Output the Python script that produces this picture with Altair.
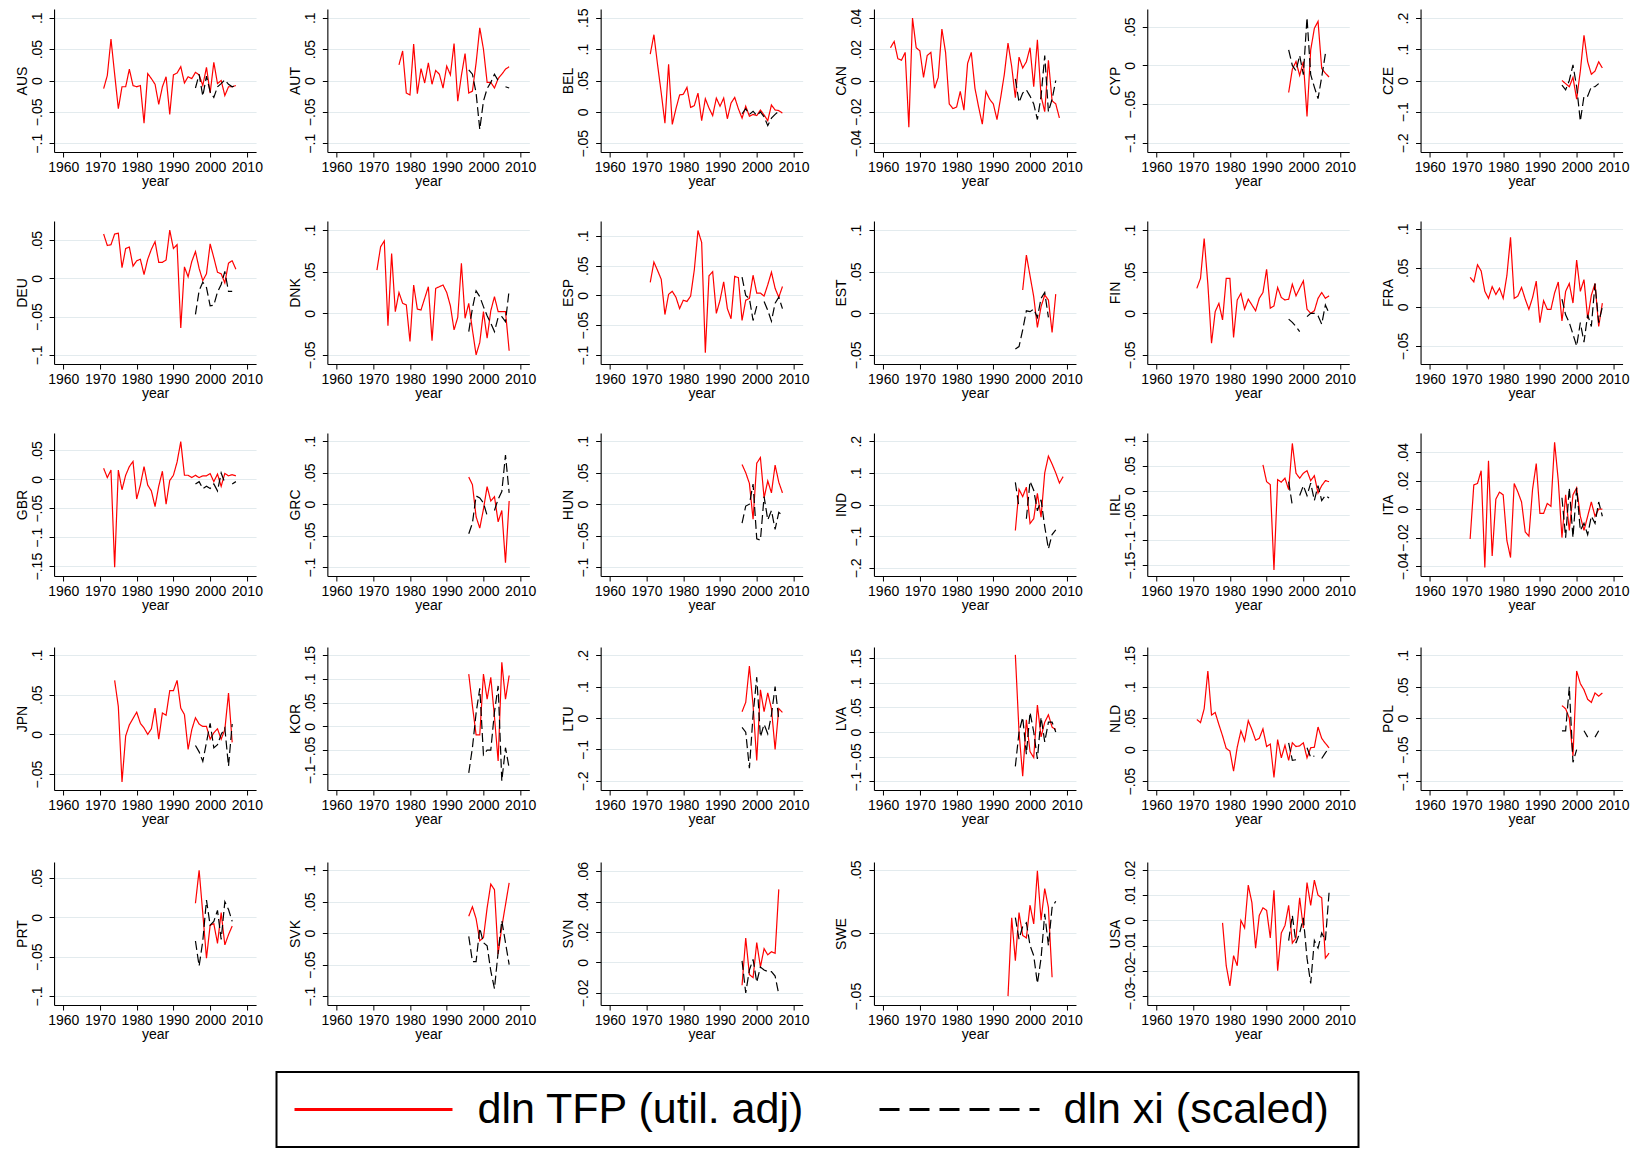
import altair as alt
import pandas as pd

TFP = "dln TFP (util. adj)"
XI = "dln xi (scaled)"
FONT = "Liberation Sans"

# ---- data: annual values (TFP series start year, xi from 1996) ----
AUS_TFP = [-0.013, 0.008, 0.066, 0.010, -0.045, -0.010, -0.010, 0.018, -0.008, -0.010, -0.008, -0.068, 0.011, 0.003, -0.006, -0.038, -0.010, 0.006, -0.054, 0.009, 0.012, 0.022, -0.004, 0.006, 0.003, 0.013, 0.009, -0.008, 0.021, -0.020, 0.029, -0.005, 0.000, -0.024, -0.010, -0.010, -0.008]
AUS_XI = [-0.012, 0.010, -0.025, 0.007, -0.018, -0.027, -0.010, -0.005, 0.001, -0.006, -0.010, -0.008]
AUT_TFP = [0.025, 0.047, -0.020, -0.023, 0.058, -0.021, 0.019, -0.004, 0.028, -0.006, 0.016, 0.010, -0.012, 0.023, 0.009, 0.059, -0.033, 0.008, 0.043, -0.020, -0.017, 0.028, 0.084, 0.050, -0.003, -0.003, -0.012, 0.003, 0.010, 0.018, 0.022]
AUT_XI = [0.017, 0.010, -0.020, -0.078, -0.033, -0.013, -0.003, 0.010, 0.000, None, -0.010, -0.012]
BEL_TFP = [0.092, 0.123, 0.075, 0.030, -0.018, 0.076, -0.020, 0.005, 0.027, 0.028, 0.039, 0.007, 0.010, 0.030, -0.014, 0.021, 0.006, -0.006, 0.022, 0.009, 0.022, -0.011, 0.014, 0.023, 0.005, -0.010, 0.009, -0.007, -0.004, -0.006, 0.003, -0.005, -0.014, 0.011, 0.003, 0.002, -0.002]
BEL_XI = [-0.003, 0.005, -0.004, 0.001, -0.006, 0.000, -0.008, -0.022, -0.010, -0.004, 0.001]
CAN_TFP = [0.021, 0.025, 0.014, 0.013, 0.018, -0.030, 0.040, 0.021, 0.019, 0.002, 0.016, 0.018, -0.005, 0.002, 0.033, 0.018, -0.015, -0.018, -0.017, -0.007, -0.019, 0.011, 0.018, -0.005, -0.017, -0.028, -0.007, -0.012, -0.015, -0.025, -0.011, 0.004, 0.024, 0.009, -0.011, 0.015, 0.008, 0.012, 0.021, -0.004, 0.026, -0.010, -0.020, 0.013, -0.013, -0.015, -0.024]
CAN_XI = [0.001, -0.014, -0.008, -0.006, -0.010, -0.015, -0.025, -0.010, 0.016, -0.020, -0.012, 0.000]
CYP_TFP = [-0.035, -0.005, 0.005, -0.013, 0.005, -0.066, 0.020, 0.048, 0.057, -0.004, -0.010, -0.015]
CYP_XI = [0.020, 0.000, -0.007, 0.013, -0.012, 0.062, -0.012, -0.028, -0.043, -0.015, 0.015]
CZE_TFP = [0.000, -0.010, -0.020, 0.010, -0.060, 0.030, 0.145, 0.060, 0.020, 0.030, 0.060, 0.040]
CZE_XI = [-0.015, -0.030, 0.000, 0.050, -0.020, -0.130, -0.050, -0.050, -0.020, -0.020, -0.010]
DEU_TFP = [0.058, 0.043, 0.044, 0.058, 0.059, 0.014, 0.039, 0.041, 0.016, 0.023, 0.025, 0.005, 0.025, 0.038, 0.048, 0.021, 0.021, 0.024, 0.063, 0.039, 0.044, -0.065, 0.015, 0.002, 0.022, 0.035, 0.013, -0.003, 0.006, 0.045, 0.027, 0.008, 0.006, -0.006, 0.020, 0.023, 0.012]
DEU_XI = [-0.047, -0.016, -0.005, -0.012, -0.036, -0.035, -0.018, -0.008, 0.009, -0.017, -0.017]
DNK_TFP = [0.052, 0.080, 0.087, -0.015, 0.072, 0.002, 0.025, 0.012, 0.010, -0.034, 0.034, 0.005, 0.004, 0.018, 0.032, -0.033, 0.030, 0.032, 0.034, 0.025, 0.009, -0.020, -0.005, 0.060, -0.006, 0.012, -0.020, -0.050, -0.035, 0.002, -0.030, 0.003, 0.020, 0.002, 0.002, 0.002, -0.045]
DNK_XI = [-0.022, 0.006, 0.027, 0.020, 0.008, -0.003, -0.012, -0.022, -0.005, -0.004, -0.010, 0.028]
ESP_TFP = [0.022, 0.056, 0.042, 0.027, -0.032, 0.002, 0.007, -0.003, -0.022, -0.008, -0.010, -0.001, 0.043, 0.109, 0.089, -0.096, 0.033, 0.040, -0.030, -0.008, 0.023, -0.022, -0.039, 0.032, 0.030, -0.042, -0.008, -0.005, 0.034, 0.004, 0.004, -0.001, 0.018, 0.039, 0.012, -0.003, 0.015]
ESP_XI = [0.031, 0.000, -0.005, -0.042, -0.018, None, -0.010, -0.025, -0.043, -0.013, -0.003, -0.022]
EST_TFP = [0.028, 0.070, 0.045, 0.020, -0.017, 0.008, 0.022, 0.016, -0.023, 0.023]
EST_XI = [-0.043, -0.040, -0.020, 0.003, 0.002, 0.005, -0.005, 0.018, 0.025, -0.005]
FIN_TFP = [0.030, 0.042, 0.090, 0.035, -0.036, 0.002, 0.012, -0.008, 0.042, 0.042, -0.029, 0.016, 0.024, 0.005, 0.017, 0.010, 0.003, 0.018, 0.025, 0.053, 0.006, 0.009, 0.031, 0.019, 0.016, 0.017, 0.035, 0.021, 0.030, 0.039, 0.005, 0.000, 0.003, 0.018, 0.025, 0.018, 0.021]
FIN_XI = [-0.007, -0.011, -0.016, -0.022, None, -0.004, 0.000, 0.000, -0.003, -0.013, 0.010, 0.000]
FRA_TFP = [0.038, 0.032, 0.054, 0.046, 0.020, 0.011, 0.026, 0.016, 0.024, 0.011, 0.040, 0.089, 0.011, 0.014, 0.025, 0.010, -0.003, 0.012, 0.033, -0.020, 0.008, -0.003, -0.003, 0.018, 0.032, -0.018, 0.020, 0.030, 0.005, 0.060, 0.020, 0.035, -0.015, 0.015, 0.030, -0.025, 0.005]
FRA_XI = [0.010, -0.010, -0.020, -0.035, -0.050, -0.020, -0.045, -0.010, -0.025, 0.030, -0.020, 0.000]
GBR_TFP = [0.019, 0.003, 0.016, -0.152, 0.016, -0.018, 0.007, 0.022, 0.031, -0.034, -0.010, 0.022, -0.010, -0.020, -0.047, -0.012, 0.014, -0.043, -0.002, 0.007, 0.030, 0.065, 0.007, 0.007, 0.003, 0.007, 0.003, 0.006, 0.006, 0.010, -0.004, 0.009, -0.012, 0.010, 0.006, 0.008, 0.006]
GBR_XI = [-0.008, -0.004, -0.016, -0.012, -0.016, -0.008, -0.020, 0.011, -0.006, None, -0.008, -0.004]
GRC_TFP = [0.043, 0.031, -0.020, -0.038, -0.008, 0.028, 0.005, 0.012, -0.028, -0.010, -0.093, 0.005]
GRC_XI = [-0.047, -0.030, 0.013, 0.010, 0.002, -0.018, None, -0.010, 0.008, 0.020, 0.078, 0.018]
HUN_TFP = [0.063, 0.050, 0.033, -0.024, 0.065, 0.074, 0.010, 0.037, 0.018, 0.062, 0.035, 0.018]
HUN_XI = [-0.030, -0.003, 0.000, 0.032, -0.055, -0.057, 0.012, -0.025, -0.010, -0.040, -0.013, -0.018]
IND_TFP = [-0.082, 0.048, 0.025, 0.055, -0.060, -0.045, 0.035, -0.040, 0.100, 0.153, 0.128, 0.100, 0.068, 0.088]
IND_XI = [0.070, -0.010, None, -0.045, 0.073, 0.045, -0.020, 0.015, -0.070, -0.140, -0.095, -0.080]
IRL_TFP = [0.052, 0.018, 0.012, -0.160, 0.022, 0.017, 0.025, 0.002, 0.095, 0.035, 0.025, 0.035, 0.040, 0.020, 0.030, -0.005, 0.010, 0.020, 0.018]
IRL_XI = [0.018, -0.030, None, -0.010, 0.010, -0.010, 0.015, -0.020, 0.010, -0.020, -0.010, -0.015]
ITA_TFP = [-0.021, 0.017, 0.018, 0.027, -0.041, 0.034, -0.033, 0.007, 0.012, 0.010, -0.022, -0.034, 0.018, 0.012, 0.005, -0.016, -0.019, 0.014, 0.032, -0.003, -0.003, 0.004, 0.002, 0.047, 0.020, -0.020, 0.010, -0.015, 0.010, 0.015, -0.005, -0.015, -0.005, 0.005, -0.005, 0.000, 0.000]
ITA_XI = [0.008, -0.020, 0.015, -0.020, 0.015, -0.015, -0.010, -0.018, -0.005, -0.010, 0.005, -0.005]
JPN_TFP = [0.068, 0.035, -0.060, -0.002, 0.012, 0.020, 0.028, 0.014, 0.008, 0.000, 0.007, 0.033, -0.006, 0.027, 0.024, 0.055, 0.055, 0.068, 0.033, 0.025, -0.019, 0.006, 0.021, 0.013, 0.010, 0.010, -0.006, 0.002, 0.007, -0.006, 0.006, 0.052, -0.010]
JPN_XI = [-0.014, -0.022, -0.034, -0.010, 0.014, -0.017, -0.013, 0.000, 0.008, -0.040, 0.013]
KOR_TFP = [0.110, 0.043, -0.018, -0.018, 0.110, 0.057, 0.103, 0.020, -0.073, 0.135, 0.057, 0.107]
KOR_XI = [-0.098, -0.045, 0.028, 0.080, -0.060, -0.050, -0.050, 0.030, 0.085, -0.115, -0.045, -0.088]
LTU_TFP = [0.020, 0.050, 0.165, 0.040, -0.135, 0.090, 0.020, 0.080, 0.030, -0.100, 0.030, 0.018]
LTU_XI = [-0.030, -0.045, -0.160, 0.010, 0.130, -0.060, -0.020, -0.050, 0.010, 0.100, -0.005]
LVA_TFP = [0.157, 0.000, -0.090, 0.025, -0.040, -0.052, 0.055, -0.010, 0.020, 0.035, 0.010, 0.005]
LVA_XI = [-0.070, 0.000, 0.030, -0.045, 0.040, 0.000, -0.055, 0.030, -0.020, 0.020, 0.020, 0.000]
NLD_TFP = [0.048, 0.043, 0.065, 0.125, 0.055, 0.059, 0.040, 0.022, 0.002, -0.002, -0.034, 0.004, 0.030, 0.014, 0.046, 0.032, 0.015, 0.018, 0.033, 0.005, 0.009, -0.044, 0.016, -0.013, 0.007, -0.017, 0.011, 0.005, 0.006, 0.011, -0.013, 0.003, 0.004, 0.036, 0.018, 0.010, 0.003]
NLD_XI = [0.011, -0.017, -0.016, None, None, 0.003, -0.012, -0.010, None, -0.014, -0.005, 0.003]
POL_TFP = [0.020, 0.015, 0.000, -0.060, 0.075, 0.055, 0.045, 0.030, 0.025, 0.040, 0.035, 0.040]
POL_XI = [-0.020, -0.020, 0.050, -0.070, -0.050, None, -0.020, -0.030, None, -0.030, -0.020]
PRT_TFP = [0.018, 0.060, 0.005, -0.052, -0.010, -0.008, -0.033, 0.006, -0.035, -0.022, -0.011]
PRT_XI = [-0.030, -0.062, -0.030, 0.022, -0.010, -0.005, 0.009, -0.028, 0.020, 0.010, -0.005]
SVK_TFP = [0.027, 0.042, 0.023, -0.012, -0.007, 0.040, 0.078, 0.069, -0.033, 0.010, 0.045, 0.080]
SVK_XI = [-0.005, -0.045, -0.045, 0.008, -0.015, -0.020, -0.060, -0.088, -0.030, 0.020, -0.015, -0.050]
SVN_TFP = [-0.015, 0.016, -0.008, -0.010, 0.013, -0.003, 0.009, 0.005, 0.007, 0.006, 0.048]
SVN_XI = [0.001, -0.020, -0.005, 0.002, -0.013, -0.003, -0.005, -0.006, -0.006, -0.009, -0.021]
SWE_TFP = [-0.050, 0.012, -0.022, 0.016, -0.002, -0.004, 0.022, 0.007, 0.049, 0.010, 0.035, 0.020, -0.035]
SWE_XI = [0.012, -0.005, 0.005, 0.008, -0.010, -0.018, -0.040, -0.020, 0.015, -0.010, 0.020, 0.025]
USA_TFP = [-0.001, -0.018, -0.026, -0.014, -0.018, 0.000, -0.003, 0.014, 0.007, -0.011, 0.002, 0.005, 0.004, -0.007, 0.012, -0.020, -0.005, -0.002, 0.006, -0.009, -0.007, 0.009, -0.003, 0.015, 0.006, 0.016, 0.010, 0.009, -0.015, -0.013]
USA_XI = [-0.008, 0.002, -0.009, -0.005, 0.001, -0.015, -0.025, -0.008, -0.011, -0.005, -0.008, 0.011]

XI_START = 1996

# y tick labels per panel
T10 = [-0.1, -0.05, 0, 0.05, 0.1]
T_05_10 = [-0.05, 0, 0.05, 0.1]
T_10_05 = [-0.1, -0.05, 0, 0.05]
T20 = [-0.2, -0.1, 0, 0.1, 0.2]
T04 = [-0.04, -0.02, 0, 0.02, 0.04]

# code, TFP start year, TFP, xi, y ticks, y range
PANELS = [
    [("AUS", 1971, AUS_TFP, AUS_XI, T10, [-0.114, 0.114]),
     ("AUT", 1977, AUT_TFP, AUT_XI, T10, [-0.114, 0.114]),
     ("BEL", 1971, BEL_TFP, BEL_XI, [-0.05, 0, 0.05, 0.1, 0.15], [-0.064, 0.164]),
     ("CAN", 1962, CAN_TFP, CAN_XI, T04, [-0.0458, 0.0458]),
     ("CYP", 1996, CYP_TFP, CYP_XI, T_10_05, [-0.112, 0.073]),
     ("CZE", 1996, CZE_TFP, CZE_XI, T20, [-0.229, 0.229])],
    [("DEU", 1971, DEU_TFP, DEU_XI, T_10_05, [-0.112, 0.075]),
     ("DNK", 1971, DNK_TFP, DNK_XI, T_05_10, [-0.061, 0.111]),
     ("ESP", 1971, ESP_TFP, ESP_XI, T10, [-0.115, 0.125]),
     ("EST", 1998, EST_TFP, EST_XI, T_05_10, [-0.061, 0.111]),
     ("FIN", 1971, FIN_TFP, FIN_XI, T_05_10, [-0.061, 0.111]),
     ("FRA", 1971, FRA_TFP, FRA_XI, T_05_10, [-0.073, 0.110])],
    [("GBR", 1971, GBR_TFP, GBR_XI, [-0.15, -0.1, -0.05, 0, 0.05], [-0.167, 0.080]),
     ("GRC", 1996, GRC_TFP, GRC_XI, T10, [-0.114, 0.113]),
     ("HUN", 1996, HUN_TFP, HUN_XI, T10, [-0.114, 0.113]),
     ("IND", 1996, IND_TFP, IND_XI, T20, [-0.226, 0.226]),
     ("IRL", 1989, IRL_TFP, IRL_XI, [-0.15, -0.1, -0.05, 0, 0.05, 0.1], [-0.172, 0.116]),
     ("ITA", 1971, ITA_TFP, ITA_XI, T04, [-0.047, 0.0535])],
    [("JPN", 1974, JPN_TFP, JPN_XI, T_05_10, [-0.070, 0.110]),
     ("KOR", 1996, KOR_TFP, KOR_XI, [-0.1, -0.05, 0, 0.05, 0.1, 0.15], [-0.134, 0.167]),
     ("LTU", 1996, LTU_TFP, LTU_XI, T20, [-0.229, 0.226]),
     ("LVA", 1996, LVA_TFP, LVA_XI, [-0.1, -0.05, 0, 0.05, 0.1, 0.15], [-0.118, 0.173]),
     ("NLD", 1971, NLD_TFP, NLD_XI, [-0.05, 0, 0.05, 0.1, 0.15], [-0.064, 0.163]),
     ("POL", 1996, POL_TFP, POL_XI, T10, [-0.114, 0.113])],
    [("PRT", 1996, PRT_TFP, PRT_XI, T_10_05, [-0.1115, 0.0705]),
     ("SVK", 1996, SVK_TFP, SVK_XI, T10, [-0.114, 0.113]),
     ("SVN", 1996, SVN_TFP, SVN_XI, [-0.02, 0, 0.02, 0.04, 0.06], [-0.028, 0.066]),
     ("SWE", 1994, SWE_TFP, SWE_XI, [-0.05, 0, 0.05], [-0.057, 0.056]),
     ("USA", 1978, USA_TFP, USA_XI, [-0.03, -0.02, -0.01, 0, 0.01, 0.02], [-0.0336, 0.0232])],
]

# legend entries
LEG_SERIES = [TFP, XI]
LEG_LINE_FROM = [18, 603]
LEG_LINE_TO = [176, 763]
LEG_TEXT_AT = [201, 787]

# Stata-like labels: ".05", "−.1"
LABEL_EXPR = "replace(format(datum.value, '.2~f'), '0.', '.')"

color_scale = alt.Scale(domain=[TFP, XI], range=["#ff0000", "#000000"])
dash_scale = alt.Scale(domain=[TFP, XI], range=[[1, 0], [9, 4]])


def make_panel(code, start, tfp, xi, ticks, dom):
    rows = []
    for i, v in enumerate(tfp):
        rows.append({"year": start + i, "value": v, "series": TFP, "seg": 0})
    seg = 1
    for i, v in enumerate(xi):
        if v is None:
            seg += 1
            continue
        rows.append({"year": XI_START + i, "value": v, "series": XI, "seg": seg})
    df = pd.DataFrame(rows)

    return alt.Chart(df).mark_line(strokeWidth=1.2).encode(
        x=alt.X("year:Q",
                scale=alt.Scale(domain=[1957.5, 2012.5], nice=False, zero=False),
                axis=alt.Axis(values=list(range(1960, 2011, 10)), format="d",
                              title="year", grid=False)),
        y=alt.Y("value:Q",
                scale=alt.Scale(domain=dom, nice=False, zero=False),
                axis=alt.Axis(values=ticks, title=code, labelExpr=LABEL_EXPR)),
        color=alt.Color("series:N", scale=color_scale, legend=None),
        strokeDash=alt.StrokeDash("series:N", scale=dash_scale, legend=None),
        detail="seg:N",
        order="year:Q",
    ).properties(width=202, height=143)


grid = alt.vconcat(
    *[alt.hconcat(*[make_panel(*p) for p in row], spacing=25.3) for row in PANELS],
    spacing=33
)

# legend drawn as its own small chart below the grid (box sits left of centre)
LEG_W = 1130
BOX_W = 1082
BOX_H = 75
leg_df = pd.DataFrame({"series": LEG_SERIES, "x0": LEG_LINE_FROM,
                       "x1": LEG_LINE_TO, "tx": LEG_TEXT_AT})
leg_x = alt.Scale(domain=[0, LEG_W], nice=False, zero=False)
leg_base = alt.Chart(leg_df)
leg_box = leg_base.transform_filter(alt.datum.series == TFP).mark_rect(
    fillOpacity=0, stroke="black", strokeWidth=2).encode(
    x=alt.value(0), x2=alt.value(BOX_W), y=alt.value(0), y2=alt.value(BOX_H))
leg_red = leg_base.transform_filter(alt.datum.series == TFP).mark_rule(strokeWidth=3).encode(
    x=alt.X("x0:Q", scale=leg_x, axis=None), x2="x1:Q", y=alt.value(BOX_H / 2),
    color=alt.Color("series:N", legend=None))
leg_black = leg_base.transform_filter(alt.datum.series == XI).mark_rule(
    strokeWidth=3, strokeDash=[20, 10]).encode(
    x=alt.X("x0:Q", scale=leg_x, axis=None), x2="x1:Q", y=alt.value(BOX_H / 2),
    color=alt.Color("series:N", legend=None))
leg_text = leg_base.mark_text(align="left", baseline="middle", fontSize=43,
                              font=FONT, color="black").encode(
    x=alt.X("tx:Q", scale=leg_x, axis=None), y=alt.value(BOX_H / 2), text="series:N")
legend_box = alt.layer(leg_box, leg_red, leg_black, leg_text).properties(
    width=LEG_W, height=BOX_H)

chart = alt.vconcat(grid, legend_box, spacing=30, center=True).properties(
    padding={"left": 7, "top": 0, "right": 5, "bottom": 0}
).configure_view(
    stroke=None
).configure_axis(
    labelFont=FONT, titleFont=FONT, labelFontSize=14, titleFontSize=14,
    titleFontWeight="normal", labelColor="black", titleColor="black",
    domainColor="black", domainWidth=1.1, tickColor="black", tickSize=5,
    gridColor="#e3ebee", gridWidth=1.2, labelOverlap=False
).configure_axisY(
    labelAngle=270, labelAlign="center", labelBaseline="bottom",
    labelPadding=5, titleAngle=270, titleAlign="center", titleBaseline="bottom",
    titleX=-25, titleY=71.5
).configure_axisX(
    labelAngle=0, labelPadding=3, titlePadding=0
)

chart.save("out.html", embed_options={"renderer": "svg", "actions": False})
